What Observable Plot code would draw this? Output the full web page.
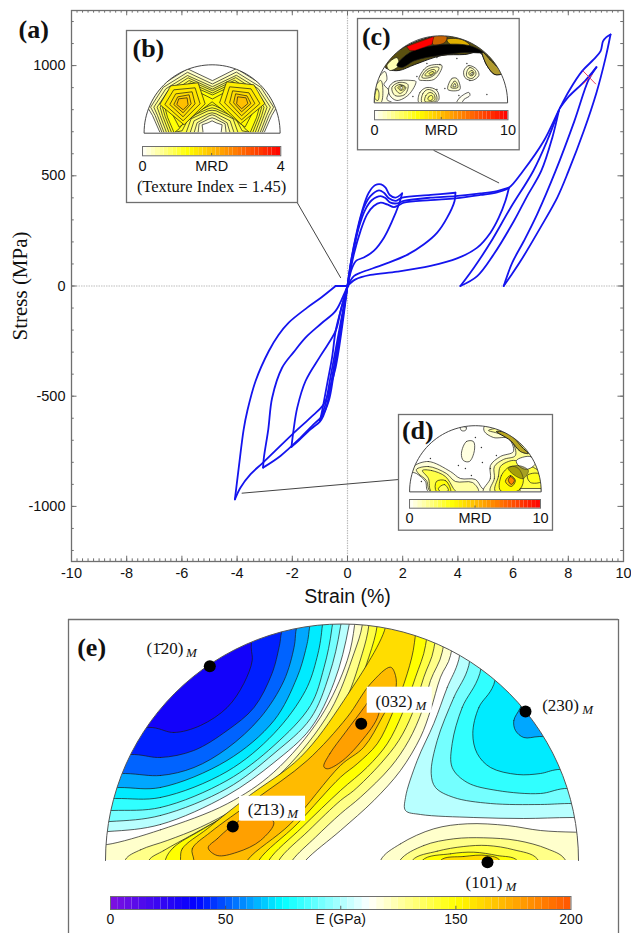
<!DOCTYPE html>
<html><head><meta charset="utf-8">
<script src="https://cdn.jsdelivr.net/npm/d3@7"></script>
<script src="https://cdn.jsdelivr.net/npm/@observablehq/plot@0.6"></script>
<style>
html,body{margin:0;padding:0;background:#fff}
#fig{position:relative;width:631px;height:933px;overflow:hidden;background:#fff}
#fig svg{position:absolute;max-width:none}
</style></head><body><div id="fig"></div>
<script>
// ---------- (a) hysteresis paths, [strain %, stress MPa]
const rise1=[[0,0],[0.11,98],[0.29,219],[0.53,340],[0.77,423],[1.01,458],[1.22,461],[1.38,446],[1.53,413],[1.74,401],[1.98,420]];
const unload1=[[1.98,420],[1.86,370],[1.62,295],[1.32,219],[0.95,159],[0.59,129],[0.33,116],[0.17,83],[0,0]];
const rise2=[[0,0],[0.13,113],[0.33,234],[0.59,355],[0.83,408],[1.14,434],[1.32,423],[1.50,398],[1.74,386],[1.98,401],[3.01,413],[3.91,423]];
const unload2=[[3.91,423],[3.88,386],[3.61,310],[3.25,242],[2.77,189],[2.16,141],[1.32,98],[0.47,60],[0.23,45],[0,0]];
const rise3=[[0,0],[0.17,129],[0.41,265],[0.65,348],[0.89,390],[1.20,408],[1.38,398],[1.56,378],[1.80,375],[2.04,386],[3.01,401],[3.91,408],[4.82,420],[5.42,431],[5.85,446]];
const unload3=[[5.85,446],[5.72,386],[5.48,310],[5.18,242],[4.70,174],[3.97,125],[3.01,91],[1.80,65],[0.83,50],[0.29,30],[0,0]];
const rise4=[[0,0],[0.23,144],[0.47,249],[0.71,325],[0.95,363],[1.20,378],[1.44,370],[1.68,358],[1.86,367],[2.04,378],[3.01,390],[3.91,398],[4.82,413],[5.42,425],[5.85,446],[6.36,522],[7.11,658],[7.69,806],[8.02,884],[8.50,975],[8.92,1028],[9.17,1066],[9.26,1111],[9.38,1129],[9.53,1141]];
const fromTop=[[9.53,1141],[9.35,1035],[9.02,877],[8.56,703],[8.01,522],[7.60,401],[6.99,265],[6.27,113],[5.91,45],[5.66,0]];
const reloadTip=[[5.66,0],[5.97,106],[6.39,204],[6.87,325],[7.54,522],[8.22,748],[8.74,937],[9.02,993]];
const tipBack=[[9.02,993],[8.60,930],[8.02,860],[7.69,806]];
const loopUp=[[4.09,0],[4.58,83],[5.18,197],[5.91,355],[6.73,522],[7.23,658],[7.66,797]];
const loopDown=[[7.66,797],[7.42,673],[7.02,522],[6.51,408],[6.03,295],[5.30,144],[4.70,45],[4.09,0]];
const load1=[[0,0],[-0.62,-416],[-0.80,-537],[-0.92,-582],[-1.0,-612]];
const up1=[[-1.0,-612],[-0.92,-567],[-0.74,-446],[-0.56,-325],[-0.43,-204],[-0.25,-113],[0,0]];
const load2=[[0,0],[-0.56,-416],[-0.74,-537],[-0.88,-590],[-1.0,-615],[-1.34,-650],[-1.76,-700],[-2.03,-730]];
const up2=[[-2.03,-730],[-1.95,-649],[-1.82,-552],[-1.52,-431],[-0.98,-317],[-0.43,-204],[-0.25,-113],[0,0]];
const load3=[[0,0],[-0.5,-401],[-0.68,-522],[-0.92,-590],[-1.22,-627],[-1.70,-688],[-2.43,-771],[-3.06,-824]];
const up3=[[-3.06,-824],[-3.03,-779],[-2.87,-650],[-2.73,-507],[-2.37,-371],[-1.95,-300],[-1.52,-234],[-0.95,-170],[-0.43,-113],[-0.1,-30],[0,0]];
const load4=[[0,0],[-0.43,-370],[-0.64,-461],[-0.86,-537],[-1.34,-597],[-2.0,-673],[-3.06,-801],[-3.51,-854],[-3.88,-915],[-4.08,-968]];
const up4=[[-4.08,-968],[-3.94,-824],[-3.76,-649],[-3.63,-567],[-3.33,-431],[-2.85,-295],[-2.50,-222],[-2.13,-166],[-1.46,-98],[-0.95,-52],[-0.43,0]];
const upEnd=[[-0.43,0],[0,0]];
const hysteresis=[rise1,unload1,rise2,unload2,rise3,unload3,rise4,fromTop,reloadTip,tipBack,loopUp,loopDown,load1,up1,load2,up2,load3,up3,load4,up4,upEnd];
const failureMarkA=[[8.54,975],[8.99,917]];
const failureMarkB=[[8.54,917],[8.87,958]];
const leaderB=[[-1.82,378],[-0.25,38]];
const leaderC=[[3.13,615],[5.48,468]];
const leaderD=[[-3.82,-940],[1.86,-878]];
const strainTicks=[-10,-8,-6,-4,-2,0,2,4,6,8,10];
const stressTicks=[-1000,-500,0,500,1000];

// ---------- (e) E(GPa) contours, position on the projection (radius 236.5)
const RE=236.5;
const e102=[[-234,29],[-181.5,36],[-115,65],[-68,98],[-31.5,132],[-8,178],[7,235],[14,300],[-300,300],[-300,29]];
const e92=[[-232,39],[-181.5,45],[-115,72],[-68,107],[-31.5,142],[-13,185],[-1.5,234],[4,300],[-300,300],[-300,39]];
const e82=[[-230,50],[-181.5,53],[-115,80],[-68,115],[-31.5,155],[-18,193],[-10,233],[-6,300],[-300,300],[-300,50]];
const e72=[[-226.5,62],[-181.5,63],[-115,89],[-68,127],[-36.5,170],[-25,203],[-20,232],[-18,300],[-300,300],[-300,62]];
const e62=[[-223,73],[-181.5,73],[-115,100],[-68,140],[-45,183],[-36.5,210],[-33,229],[-32,300],[-300,300],[-300,73]];
const e52=[[-216.5,87],[-181.5,85],[-148,93],[-115,112],[-81.5,143],[-58,180],[-48,213],[-46.5,226],[-45,300],[-300,300],[-300,87]];
const e42=[[-207.5,106],[-181.5,103],[-148.2,110],[-114.8,130],[-88,153],[-70,187],[-63,213],[-61.5,222],[-60,300],[-300,300],[-300,106]];
const e32=[[-189.8,133],[-168.2,128],[-141.5,135],[-114.8,153],[-98.2,177],[-89.8,200],[-90.8,213],[-90,300],[-300,300],[-300,133]];
const right102=[[116.8,201],[105.2,173],[91.8,137],[75.2,100],[63.5,63],[63.5,50],[78.5,46],[131.8,43],[181.8,42],[230.2,43],[300,42],[300,300],[130,300]];
const right92=[[126.8,195],[111.8,163],[95.2,120],[89.2,87],[93.5,73],[111.8,63],[148.5,57],[198.5,56],[226.8,57],[300,57],[300,300],[135,300]];
const right82=[[137.8,187],[120.2,153],[110.2,117],[110.2,93],[125.2,78],[155.2,70],[198.5,67],[222.5,72],[300,72],[300,300],[150,300]];
const right72=[[151.8,176],[136.8,153],[130.8,127],[135.2,107],[148.5,93],[175.2,86],[198.5,87],[215.8,91],[300,91],[300,300],[170,300]];
const right62=[[178.5,153],[171.8,140],[173.5,130],[181.8,123],[197.8,124],[260,124],[260,240],[200,200]];
const ridge120=[[-234.8,16],[-181.5,30.7],[-114.8,56.7],[-68.2,88.3],[-21.5,143.3],[5.2,200],[12.5,235],[13.5,256.7],[108.5,256.7],[108.5,205],[98.5,183.3],[88.5,150],[78.5,123.3],[58.5,90],[31.8,60],[-1.5,30],[-36.5,0],[-48.2,-16.7],[-248,-16.7],[-248,16]];
const ridge130=[[-216.5,1],[-201.5,10.7],[-174.8,20],[-141.5,33.3],[-104.8,53.3],[-58.2,90],[-11.5,150],[11.8,206.7],[20.2,235],[20.2,256.7],[100.2,256.7],[100.2,208.3],[88.5,180],[80.2,150],[66.8,120],[48.5,93.3],[18.5,63.3],[-1.5,46.7],[-26.5,23.3],[-49.8,0],[-58.2,-16.7],[-216.5,-16.7]];
const ridge140=[[-193.2,0],[-178.2,10],[-148.2,26.7],[-108.2,50],[-48.2,93.3],[-1.5,150],[20.2,206.7],[26.8,235],[26.8,256.7],[91.8,256.7],[91.8,211.7],[81.8,183.3],[70.2,146.7],[56.8,120],[38.5,96.7],[11.8,70],[-1.5,60],[-33.2,30],[-63.2,0],[-68.2,-16.7],[-193.2,-16.7]];
const ridge150=[[-176.5,1],[-168.2,13.3],[-141.5,30],[-101.5,53.3],[-41.5,96.7],[5.2,150],[26.8,203.3],[35.2,235],[35.2,256.7],[83.5,256.7],[83.5,215],[73.5,183.3],[60.2,146.7],[45.2,116.7],[25.2,93.3],[-1.5,70],[-39.8,33.3],[-73.2,0],[-78.2,-16.7],[-176.5,-16.7]];
const ridge160=[[-161.5,1],[-159.8,11.7],[-134.8,31.7],[-94.8,63.3],[-41.5,103.3],[1.8,160],[43.5,233.3],[43.5,256.7],[72.5,256.7],[72.5,218.3],[65.2,186.7],[50.2,146.7],[35.2,116.7],[15.2,96.7],[-1.5,83.3],[-44.8,36.7],[-83.2,0],[-88.2,-16.7],[-161.5,-16.7]];
const ridge170=[[-148.2,0.7],[-149.8,11.7],[-131.5,28.3],[-88.2,60],[-34.8,100],[5.2,143.3],[28.5,176.7],[48.5,193.3],[53.5,185],[53.5,170],[40.2,143.3],[21.8,113.3],[-1.5,95],[-51.5,36.7],[-94.8,0],[-101.5,-16.7],[-148.2,-16.7]];
const lens213=[[-133.8,12.7],[-124.8,21.7],[-111.5,33.3],[-88.2,46.7],[-68.2,38.3],[-81.5,20],[-104.8,8.3],[-124.8,5]];
const lens032=[[-18.2,94],[-12.2,106.7],[3.5,128.3],[23.5,155],[35.2,171.7],[36.8,146.7],[18.5,118.3],[-1.5,98.3],[-14.8,91.7]];
const lobe120=[[38.5,0],[58.5,16.7],[91.8,31.7],[125.2,36.7],[165.2,35],[198.5,30],[233.5,28.3],[300,28],[300,-30],[38,-30]];
const lobe130=[[57.8,0],[81.8,15],[111.8,21.7],[141.8,22.7],[175.2,20],[205.2,11.7],[222.5,1.7],[230,-30],[50,-30]];
const lobe140=[[70.2,0],[95.2,9.3],[121.8,14],[145.2,15],[171.8,10.7],[195.2,1.7],[200,-30],[66,-30]];
const lobe150=[[80.2,0],[108.5,6.7],[131.8,8.3],[155.2,5],[175.2,0],[180,-30],[76,-30]];
const lobe160=[[98.5,0],[121.8,4],[145,5],[158,0],[160,-30],[95,-30]];
const poles=[{x:-132.2,y:194.3},{x:19.2,y:136.7},{x:-109.2,y:34},{x:183.5,y:149},{x:145.5,y:-1.7}];
const labelsE=[
 {t:"(1\u030420)",x:-195.5,y:211.7,mx:-156,my:207.3},
 {t:"(2\u030413)",x:-94.2,y:51,mx:-54.8,my:46.7},
 {t:"(032)",x:33.5,y:159.3,mx:73.5,my:155},
 {t:"(230)",x:200.2,y:155,mx:240.2,my:151},
 {t:"(101)",x:123.5,y:-21.7,mx:163.5,my:-26}];
const labelBoxes=[{x1:-102.5,x2:-36.5,y1:39.3,y2:64.3},{x1:25.2,x2:90.2,y1:147.3,y2:173.3}];
const eTicks=[0,50,100,150,200];

// ---------- (b) pole figure contours (left half; radius 68)
const b30=[[0,52.3],[-24.6,64],[-51.3,47.3],[-64.6,25.6],[-59.6,17.3],[-52,0],[-9,0],[-10,8],[-4,10],[0,12]];
const b42=[[0,49],[-24.6,60.5],[-48.8,45.5],[-61.5,25.6],[-57,17.3],[-50,0],[-14,0],[-13,9],[-3,14],[0,15]];
const b55=[[0,46.3],[-24.6,57.3],[-46.3,44],[-58.3,25.6],[-54.6,17.3],[-48,0],[-18,0],[-15,10],[-3,17],[0,18]];
const b68=[[0,44],[-24,55],[-44,42],[-55,25.6],[-52,17.3],[-45.5,0],[-22,0],[-18,12],[-4,19],[0,20]];
const b80=[[0,42.3],[-23,52.3],[-41.3,39.6],[-52,25.6],[-49.6,17.3],[-43,0],[-26,0],[-21,14],[-4,22],[0,22.5]];
const b92=[[0,40],[-22,50],[-39.6,37.6],[-49.6,25.6],[-47,16.5],[-40.5,0],[-30,2],[-23,15.5],[-4,24],[0,25]];
const b105=[[0,38],[-21.3,47.3],[-38,35.6],[-47.3,25.6],[-44.6,15.6],[-38,0],[-33,4],[-23,17.3],[-3,27],[0,28]];
const b130=[[0,34],[-20,44],[-34.6,40.6],[-43,25],[-32.9,5.6],[0,31]];
const bRing140=[[-41,47],[-14,50],[-7,29],[-28,8],[-52,28]];
const bRing150=[[-38,43],[-17,45],[-12,29],[-29,12],[-47,28]];
const bRing160=[[-36,39],[-20,41],[-17,29],[-29,16],[-42,28]];
const bRing175=[[-34,36],[-23,38],[-21,29],[-29,20],[-38,28]];
const bRing195=[[-33,34],[-25,35],[-24,28],[-29,23],[-35,28]];

// ---------- (c) pole figure contours (radius 66.7)
const cBand=[[-57,37],[-42,52],[-19,63],[4,67],[28,62],[43,53],[61,30],[54,28],[46,37],[39,50],[24,48],[1,47],[-26,38],[-42,32],[-52,33]];
const cBlack=[[-44,37],[-31,50],[-7,57],[28,57],[42,50],[24,50],[-2,47],[-26,42],[-39,35]];
const cRed=[[-34,56],[-7,66],[-9,58],[-26,52],[-31,52]];
const cOrange=[[-7,66],[6,66],[4,60],[-8,58]];
const cGold=[[6,63],[21,63],[29,57],[11,57]];
const cBranch=[[41,51],[49,43],[61,29],[54,28],[46,37]];
const cPale=[[-54,37],[-44,45],[-42,37],[-51,32]];
const cBlobs=[
 [.4,[[-66,0],[-65,20],[-56,31],[-54,23],[-57,18],[-52,12],[-54,3],[-49,0]]],
 [.9,[[-66,0],[-65,17],[-60,22],[-58,12],[-60,0]]],
 [1.6,[[-66,4],[-64,14],[-62,10],[-63,2]]],
 [.4,[[-52,15],[-46,21],[-29,22],[-25,21],[-32,8],[-44,2],[-51,7]]],
 [.8,[[-49,15],[-42,20],[-33,18],[-36,8],[-46,7]]],
 [1.2,[[-46,15],[-41,18],[-35,15],[-41,9]]],
 [1.7,[[-43,15],[-39,17],[-36,15],[-40,12]]],
 [.3,[[-41,15],[-39,16],[-38,15],[-40,13]]],
 [.5,[[-22,23],[-17,33],[-11,37],[1,37],[-1,30],[-7,23],[-17,22]]],
 [.9,[[-19,25],[-15,32],[-9,35],[-2,35],[-4,30],[-11,25]]],
 [1.4,[[-16,27],[-13,31],[-7,33],[-5,31],[-10,27]]],
 [1.9,[[-12,29],[-8,31],[-7,30],[-10,28]]],
 [.5,[[23,32],[28,37],[36,33],[38,27],[31,22],[24,25]]],
 [.9,[[26,31],[29,35],[34,32],[35,28],[31,24],[26,26]]],
 [1.3,[[28,30],[31,32],[33,30],[32,27],[29,27]]],
 [.4,[[30,29.5],[32,30],[31.5,28],[30,28]]],
 [.6,[[7,13],[11,24],[16,24],[19,13]]],
 [1.1,[[10,15],[13,21],[15,21],[17,15]]],
 [.5,[[12,16],[14,19],[15,16]]],
 [.5,[[-22,0],[-21,10],[-14,15],[-4,12],[-2,3],[-6,0]]],
 [.9,[[-19,0],[-18,9],[-13,13],[-6,10],[-4,3],[-8,0]]],
 [1.4,[[-16,1],[-15,7],[-11,10],[-7,8],[-6,3],[-9,1]]],
 [1.9,[[-13,3],[-12,6],[-9,7],[-8,4],[-10,2]]],
 [.2,[[16,0],[19,5],[28,10],[29,7],[23,3],[21,0]]]];
const cDots=[[-1,38],[-14,39],[26,39],[-24,26],[-4,13],[4,14],[-28,6],[29,22],[46,8],[18,7],[16,44],[-4,45]];

// ---------- (d) pole figure contours (radius 65.8)
const dBlobs=[
 [.5,[[-62,25],[-47,30],[-25,20],[-15,13],[0,12],[7,3],[13,0],[-47,0],[-50,10],[-59,18],[-64,20]]],
 [1.2,[[-59,22],[-47,25],[-29,18],[-20,10],[-3,9],[3,0],[-45,0],[-49,11],[-57,18]]],
 [2.4,[[-53,21],[-44,21],[-30,15],[-22,3],[-20,0],[-44,0],[-47,13]]],
 [3.2,[[-39,10],[-30,11],[-25,3],[-25,0],[-39,0]]],
 [2.2,[[-37,3],[-31,7],[-27,1],[-35,0]]],
 [.6,[[8,0],[15,13],[15,26],[25,35],[38,40],[33,53],[18,54],[9,60],[9,65],[26,65],[53,48],[68,15],[68,-2]]],
 [1.4,[[15,0],[19,13],[19,25],[28,32],[40,36],[36,51],[23,58],[13,61],[30,63],[53,46],[68,15],[68,-2]]],
 [2.5,[[20,0],[23,15],[25,25],[33,30],[40,31],[60,23],[66,18],[68,-2]]],
 [3.4,[[25,1],[26,16],[35,25],[43,23],[48,11],[43,1]]]];
const dTopBand=[[21,60],[33,58],[48,43],[53,38],[45,40],[35,51]];
const dSmear=[[33,23],[43,26],[53,21],[48,13],[41,15]];
const dCore=[[30,10],[35,16],[40,11],[36,5]];
const dPeak=[[33,11],[35,15],[39,11],[36,7]];
const dHole=[[41,31],[55,35],[60,28],[51,22],[43,26]];
const dRight=[[52,16],[63,18],[66,10],[55,9]];
const dStrip=[[45,3],[66,3],[66,0],[45,0]];
const dOval=[[-14,38],[-9,50],[-2,50],[-1,41],[-6,30],[-12,31]];
const dBump=[[-15,65],[-9,64],[-10,61],[-14,61]];
const dDots=[[0,54],[6,44],[21,36],[7,29],[-17,26],[-10,23],[-4,16],[-45,33],[-54,10],[15,23]];

// ---------- helpers
const fig=document.getElementById("fig");
const SANS="'Liberation Sans',Arial,sans-serif", SERIF="'Liberation Serif','Times New Roman',serif";
const GRAY="#6f6f6f";
function put(svg,left,top){svg.style.left=left+"px";svg.style.top=top+"px";fig.appendChild(svg);return svg;}
function poly(pts,fill,opts={}){
  const numeric=typeof fill==="number";
  const data=pts.map(([x,y])=>({x,y,level:fill}));
  return Plot.line(data,{x:"x",y:"y",fill:numeric?"level":fill,stroke:"#1a1a1a",strokeWidth:0.7,curve:"catmull-rom-closed",clip:true,...opts});
}
const arcPts=R=>d3.range(180,-1,-3).map(a=>[R*Math.cos(a*Math.PI/180),R*Math.sin(a*Math.PI/180)]);
function maskMarks(R,xd,yd){
  const outer=[...arcPts(R),[xd[1],0],[xd[1],yd[1]],[xd[0],yd[1]],[xd[0],0]];
  return [
    Plot.line(outer.map(([x,y])=>({x,y})),{x:"x",y:"y",fill:"white",stroke:"none",curve:"linear-closed"}),
    Plot.rect([0],{x1:xd[0],x2:xd[1],y1:yd[0],y2:0,fill:"white"})
  ];
}
const rampColor=max=>({type:"linear",domain:[0,max/3,max],range:["#ffffff","#ffff00","#ff0000"],interpolate:"rgb"});
function colorBar({left,top,w,h,max,colors,steps,ticks,fmt,size,pad}){
  const M=30, cells=d3.range(steps).map(i=>({a:max*i/steps,b:max*(i+1)/steps}));
  const svg=Plot.plot({width:w+2*M,height:h+26,marginLeft:M,marginRight:M,marginTop:0,marginBottom:26,
    style:{background:"transparent",overflow:"visible"},
    x:{domain:[0,max],axis:null},y:{domain:[0,1],axis:null},color:colors,
    marks:[
      Plot.rect(cells,{x1:"a",x2:"b",y1:0,y2:1,fill:d=>(d.a+d.b)/2}),
      Plot.ruleX(ticks.slice(1,-1),{y1:0,y2:0.25,stroke:"#444",strokeWidth:0.8}),
      Plot.frame({stroke:GRAY,strokeWidth:1}),
      Plot.axisX(ticks,{anchor:"bottom",tickSize:0,tickPadding:pad,tickFormat:fmt,fontSize:size,fontFamily:SANS,fill:"#111",label:null})
    ]});
  put(svg,left-M,top);
}
function inset({box,cx,base,R,marks,color}){
  const [fl,ft,fr,fb]=box;
  const xd=[fl-cx,fr-cx], yd=[base-fb,base-ft];
  const svg=Plot.plot({width:fr-fl,height:fb-ft,margin:0,style:{background:"white",overflow:"visible"},
    x:{domain:xd,range:[0,fr-fl],axis:null},y:{domain:yd,range:[fb-ft,0],axis:null},color,
    marks:[...marks(xd,yd),
      Plot.line(arcPts(R).map(([x,y])=>({x,y})),{x:"x",y:"y",stroke:"#333",strokeWidth:0.9,curve:"linear-closed"}),
      Plot.frame({stroke:GRAY,strokeWidth:1.3})]});
  put(svg,fl,ft);
}
const panel=(t,x,y)=>Plot.text([t],{x:()=>x,y:()=>y,fontFamily:SERIF,fontWeight:"bold",fontSize:26,textAnchor:"start",fill:"#111"});

// ---------- (a) main plot
const rows=hysteresis.flatMap((p,i)=>p.map(([strain,stress])=>({strain,stress,path:i})));
const xMinor=d3.range(-10,10.01,0.2).map(d=>+d.toFixed(1)), yMinor=d3.range(-1200,1201,100);
const xMajor=d3.range(-10,10.01,2), yMajor=d3.range(-1000,1001,500);
const tick={stroke:GRAY,strokeWidth:1};
const main=Plot.plot({width:631,height:612,marginLeft:71,marginRight:8,marginTop:10,marginBottom:51,
  style:{background:"white"},
  x:{domain:[-10,10],axis:null},y:{domain:[-1250,1250],axis:null},
  marks:[
    Plot.ruleX([0],{stroke:"#bdbdbd",strokeWidth:1.2,strokeDasharray:"1.5,1"}),
    Plot.ruleY([0],{stroke:"#bdbdbd",strokeWidth:1.2,strokeDasharray:"1.5,1"}),
    Plot.ruleX(xMinor,{y1:-1250,y2:-1238,...tick}),Plot.ruleX(xMinor,{y1:1250,y2:1238,...tick}),
    Plot.ruleX(xMajor,{y1:-1250,y2:-1226,...tick}),Plot.ruleX(xMajor,{y1:1250,y2:1226,...tick}),
    Plot.ruleY(yMinor,{x1:-10,x2:-9.9,...tick}),Plot.ruleY(yMinor,{x1:10,x2:9.9,...tick}),
    Plot.ruleY(yMajor,{x1:-10,x2:-9.8,...tick}),Plot.ruleY(yMajor,{x1:10,x2:9.8,...tick}),
    Plot.frame({stroke:GRAY,strokeWidth:1.3}),
    Plot.axisX(strainTicks,{anchor:"bottom",tickSize:0,tickPadding:6,tickFormat:String,fontSize:14.5,fontFamily:SANS,fill:"#111",label:null}),
    Plot.axisY(stressTicks,{anchor:"left",tickSize:0,tickPadding:6,tickFormat:String,fontSize:14.5,fontFamily:SANS,fill:"#111",label:null}),
    ...[leaderB,leaderC,leaderD].map(l=>Plot.line(l,{x:d=>d[0],y:d=>d[1],stroke:"#444",strokeWidth:1})),
    Plot.line(rows,{x:"strain",y:"stress",z:"path",stroke:"#1414ee",strokeWidth:1.8,curve:"catmull-rom"}),
    ...[failureMarkA,failureMarkB].map(l=>Plot.line(l,{x:d=>d[0],y:d=>d[1],stroke:"#f04060",strokeWidth:1})),
    Plot.text(["Strain (%)"],{frameAnchor:"bottom",dy:41,fontSize:19.5,fontFamily:SANS,fill:"#111"}),
    Plot.text(["Stress (MPa)"],{frameAnchor:"left",textAnchor:"middle",dx:-51,rotate:-90,fontSize:21,fontFamily:SERIF,fill:"#111"}),
    Plot.text(["(a)"],{frameAnchor:"top-left",dx:-53,dy:9,fontFamily:SERIF,fontWeight:"bold",fontSize:26,fill:"#111"})
  ]});
put(main,0,0);

// ---------- (e) E(GPa) map
const xdE=[-273.5,276.5], ydE=[-73,241];
const colorE={type:"linear",domain:[0,37.5,75,112.5,150,225],range:["#7f10e0","#0000ff","#00ffff","#ffffff","#ffff00","#ff0000"],interpolate:"rgb"};
const layersE=[[ridge120,120],[ridge130,130],[ridge140,140],[ridge150,150],[ridge160,160],[ridge170,170],[lens213,178],[lens032,178],
  [lobe120,120],[lobe130,130],[lobe140,140],[lobe150,150],[lobe160,160],
  [e102,102],[e92,92],[e82,82],[e72,72],[e62,62],[e52,52],[e42,42],[e32,32],
  [right102,102],[right92,92],[right82,82],[right72,72],[right62,62]];
const panelE=Plot.plot({width:631,height:321,marginLeft:68,marginRight:13,marginTop:7,marginBottom:0,
  style:{background:"transparent",overflow:"visible"},
  x:{domain:xdE,axis:null},y:{domain:ydE,axis:null},color:colorE,
  marks:[
    ...layersE.map(([pts,lvl])=>poly(pts,lvl)),
    ...maskMarks(RE,xdE,ydE),
    Plot.line(arcPts(RE).map(([x,y])=>({x,y})),{x:"x",y:"y",stroke:"#555",strokeWidth:1}),
    Plot.rect(labelBoxes,{x1:"x1",x2:"x2",y1:"y1",y2:"y2",fill:"white"}),
    Plot.dot(poles,{x:"x",y:"y",r:6,fill:"black"}),
    Plot.text(labelsE,{x:"x",y:"y",text:"t",textAnchor:"start",fontFamily:SERIF,fontSize:17,fill:"#111"}),
    Plot.text(labelsE,{x:"mx",y:"my",text:()=>"M",textAnchor:"start",fontFamily:SERIF,fontStyle:"italic",fontSize:13,fill:"#111"}),
    panel("(e)",-264.8,213.3),
    Plot.ruleX(xdE,{stroke:GRAY,strokeWidth:1.3}),
    Plot.ruleY([ydE[1]],{stroke:GRAY,strokeWidth:1.3})
  ]});
put(panelE,0,612);
colorBar({left:109.5,top:896,w:460.5,h:13,max:200,colors:colorE,steps:64,ticks:eTicks,
  fmt:d=>d===100?"E (GPa)":String(d),size:14,pad:5});

// ---------- (b)
const bFan=p=>{const back=p.slice().reverse().filter(d=>d[0]!==0).map(([x,y])=>[-x,y]);return [...p,...back];};
const linear={curve:"linear-closed",strokeWidth:0.7};
inset({box:[125.7,30,296.7,202],cx:211.3,base:132.3,R:68,color:rampColor(4),
  marks:(xd,yd)=>[
    poly(bFan(b30),0.25,linear),poly(bFan(b42),0.45,linear),poly(bFan(b55),0.65,linear),poly(bFan(b68),0.85,linear),poly(bFan(b80),1.0,linear),poly(bFan(b92),1.15,linear),poly(bFan(b105),1.3,linear),poly(bFan(b130),1.4,linear),
    ...[[bRing140,1.5],[bRing150,1.6],[bRing160,1.7],[bRing175,1.85],[bRing195,2.0]].flatMap(([p,l])=>[poly(p,l,linear),poly(p.map(([x,y])=>[-x+0.5,y+1]),l,linear)]),
    ...maskMarks(68,xd,yd),
    panel("(b)",-79.6,84),
    Plot.text(["(Texture Index = 1.45)"],{x:()=>-0.6,y:()=>-54.4,fontFamily:SERIF,fontSize:16.5,fill:"#111"})
  ]});
colorBar({left:141.7,top:146,w:138.3,h:9.3,max:4,colors:rampColor(4),steps:32,ticks:[0,2,4],
  fmt:d=>d===2?"MRD":String(d),size:14.5,pad:5});

// ---------- (c)
inset({box:[357.3,17.7,519,149],cx:440.7,base:101.7,R:66.7,color:rampColor(10),
  marks:(xd,yd)=>[
    poly(cBand,"#5a5010",{strokeWidth:1}),
    poly(cPale,1,{}),
    poly(cBranch,"#b09a30",{strokeWidth:1}),
    poly(cGold,"#e0b000",{}),
    poly(cOrange,"#c86400",{}),
    poly(cBlack,"#000000",{}),
    poly(cRed,"#ff0000",{stroke:"#400",strokeWidth:0.4,curve:"linear-closed"}),
    ...cBlobs.map(([l,p])=>poly(p,l)),
    Plot.dot(cDots,{x:d=>d[0],y:d=>d[1],r:0.7,fill:"#333"}),
    ...maskMarks(66.7,xd,yd),
    panel("(c)",-79,66)
  ]});
colorBar({left:374,top:110,w:133.5,h:9.3,max:10,colors:rampColor(10),steps:32,ticks:[0,5,10],
  fmt:d=>d===5?"MRD":String(d),size:14.5,pad:5});

// ---------- (d)
inset({box:[398.3,414.3,552.3,530],cx:475.2,base:491.3,R:65.8,color:rampColor(10),
  marks:(xd,yd)=>[
    ...dBlobs.map(([l,p])=>poly(p,l)),
    poly(dTopBand,"#b8a520",{strokeWidth:1}),
    poly(dHole,"#ffffff"),
    poly(dRight,3),
    poly(dStrip,.6,{curve:"linear-closed"}),
    poly(dSmear,"#6a6010",{fillOpacity:0.6,strokeWidth:0.5}),
    poly(dCore,4.5),poly(dPeak,6.5),
    poly(dOval,.4),
    poly(dBump,.2),
    Plot.dot(dDots,{x:d=>d[0],y:d=>d[1],r:0.7,fill:"#333"}),
    ...maskMarks(65.8,xd,yd),
    panel("(d)",-73.5,60.6)
  ]});
colorBar({left:409.3,top:499,w:131,h:8.7,max:10,colors:rampColor(10),steps:32,ticks:[0,5,10],
  fmt:d=>d===5?"MRD":String(d),size:14.5,pad:5});
</script></body></html>
